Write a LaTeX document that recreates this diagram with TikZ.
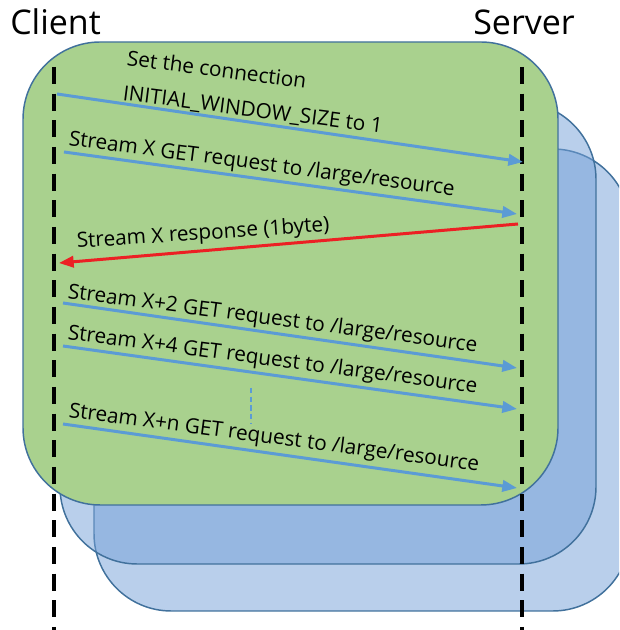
\documentclass[tikz,border=0pt]{standalone}
\usepackage{fontspec}
\setmainfont{Open Sans}
\usepackage{tikz}
\usetikzlibrary{arrows.meta}

\definecolor{boxgreen}{RGB}{169,209,142}
\definecolor{boxblue}{RGB}{115,159,215}
\definecolor{edgeblue}{RGB}{65,113,156}
\definecolor{msgblue}{RGB}{91,155,213}
\definecolor{msgred}{RGB}{236,32,36}

\tikzset{
  frame/.style={draw=edgeblue, line width=1.1pt, rounded corners=58pt},
  lifeline/.style={line width=2.5pt, dash pattern=on 12.75pt off 7.25pt},
  msg/.style={line width=2.25pt, -{Triangle[length=11pt,width=8.5pt]}},
  lbl/.style={font=\fontsize{15.6}{18}\selectfont, anchor=base west, inner sep=0pt},
  role/.style={font=\fontsize{25.5}{30}\selectfont, anchor=base west, inner sep=0pt}
}

\begin{document}
\begin{tikzpicture}[x=0.75pt,y=0.75pt]
    \useasboundingbox (0,0) rectangle (619,630);
    \clip (0,0) rectangle (619,630);

    % draw stacked boxes
    \draw[frame, fill=boxblue, fill opacity=0.5] (94,19) rectangle (630,481);
    \draw[frame, fill=boxblue, fill opacity=0.5] (60,66) rectangle (596,528);
    \draw[frame, fill=boxgreen] (23,125) rectangle (558,588);

    % draw names
    \node[role] (client) at (10,595) {Client};
    \node[role] (server) at (473,595) {Server};

    % draw lifelines
    \coordinate (ctop) at (54,563);
    \coordinate (cbot) at (54,0);
    \coordinate (stop) at (522,563);
    \coordinate (sbot) at (522,0);
    \draw[lifeline] (ctop) -- (cbot);
    \draw[lifeline] (stop) -- (sbot);

    % end points of messages
    \coordinate (c1) at (57,536);  \coordinate (s1) at (523,468);
    \coordinate (c2) at (64,478);  \coordinate (s2) at (517,416);
    \coordinate (s3) at (518,406); \coordinate (c3) at (59,367);
    \coordinate (c4) at (63,327);  \coordinate (s4) at (517,262);
    \coordinate (c5) at (63,284);  \coordinate (s5) at (517,221);
    \coordinate (c6) at (63,206);  \coordinate (s6) at (517,142);

    % draw messages
    \draw[msg, msgblue] (c1) -- (s1);
    \draw[msg, msgblue] (c2) -- (s2);
    \draw[msg, msgred] (s3) -- (c3);
    \draw[msg, msgblue] (c4) -- (s4);
    \draw[msg, msgblue] (c5) -- (s5);
    \draw[msg, msgblue] (c6) -- (s6);

    % draw gap mark
    \coordinate (gtop) at (251,242);
    \coordinate (gbot) at (251,207);
    \draw[msgblue, line width=0.9pt, dash pattern=on 4pt off 2.5pt] (gtop) -- (gbot);

    % draw labels
    \node[lbl, rotate=-7.5] (set1) at (126,565) {Set the connection};
    \node[lbl, rotate=-7.3] (set2) at (122,530) {INITIAL\_WINDOW\_SIZE to 1};
    \node[lbl, rotate=-7.5] (req1) at (68,485) {Stream X GET request to /large/resource};
    \node[lbl, rotate=3.8] (resp) at (77,382) {Stream X response (1byte)};
    \node[lbl, rotate=-7.5] (req2) at (67,332) {Stream X+2 GET request to /large/resource};
    \node[lbl, rotate=-7.5] (req4) at (67,291) {Stream X+4 GET request to /large/resource};
    \node[lbl, rotate=-7.5] (reqn) at (68,213) {Stream X+n GET request to /large/resource};

\end{tikzpicture}
\end{document}
